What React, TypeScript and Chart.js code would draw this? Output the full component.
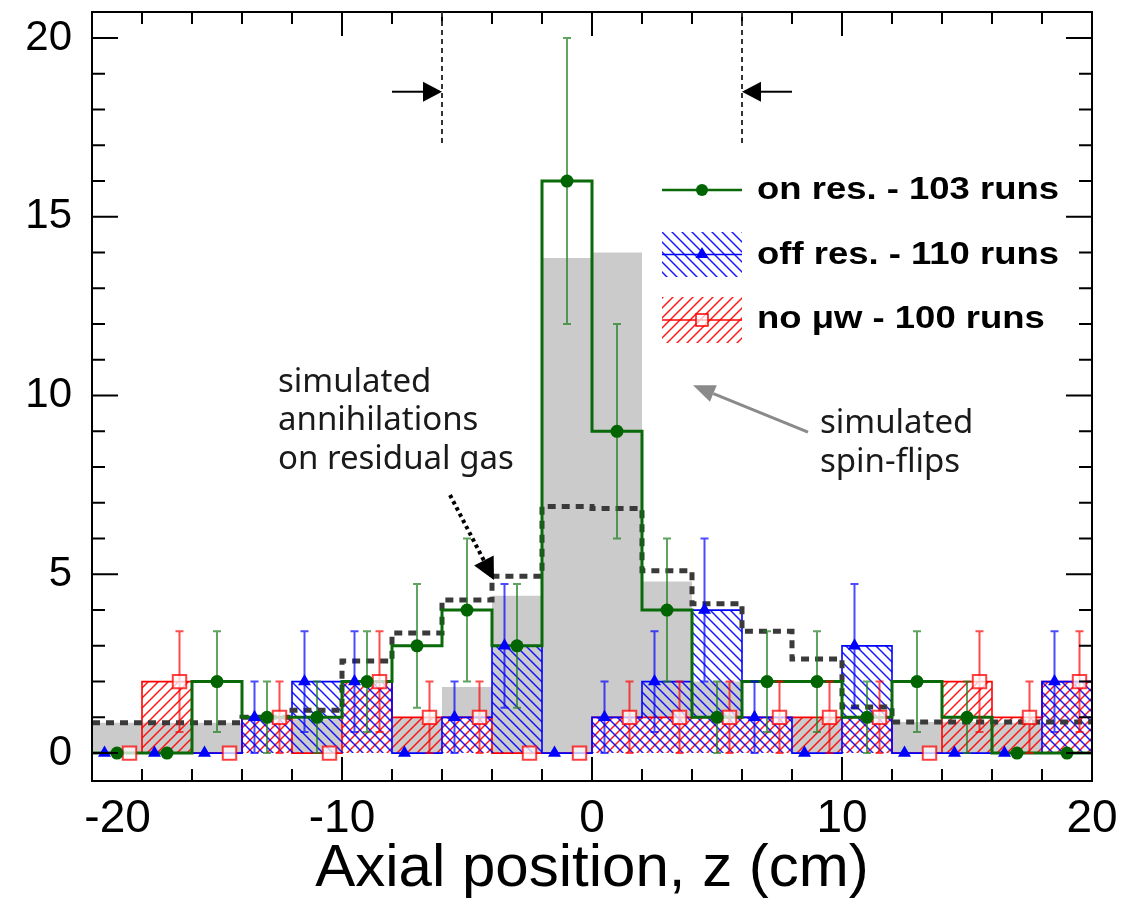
import React, { useEffect, useRef } from 'react';
import { Chart, registerables } from 'chart.js';

Chart.register(...registerables);

// ---------------- data ----------------
const binCenters = [-19, -17, -15, -13, -11, -9, -7, -5, -3, -1, 1, 3, 5, 7, 9, 11, 13, 15, 17, 19];
const binHalfWidth = 1;
const onResCounts = [0, 0, 2, 1, 1, 2, 3, 4, 3, 16, 9, 4, 1, 2, 2, 1, 2, 1, 0, 0];
const onResErrors = [0, 0, 1.41, 1, 1, 1.41, 1.73, 2, 1.73, 4, 3, 2, 1, 1.41, 1.41, 1, 1.41, 1, 0, 0];
const offResCounts = [0, 0, 0, 1, 2, 2, 0, 1, 3, 0, 1, 2, 4, 1, 0, 3, 0, 0, 0, 2];
const offResErrors = [0, 0, 0, 1, 1.41, 1.41, 0, 1, 1.73, 0, 1, 1.41, 2, 1, 0, 1.73, 0, 0, 0, 1.41];
const noMwCounts = [0, 2, 0, 1, 0, 2, 1, 1, 0, 0, 1, 1, 1, 1, 1, 1, 0, 2, 1, 2];
const noMwErrors = [0, 1.41, 0, 1, 0, 1.41, 1, 1, 0, 0, 1, 1, 1, 1, 1, 1, 0, 1.41, 1, 1.41];
const simSpinFlips = [0.85, 0.85, 0.85, 0.85, 0.95, 1.0, 1.0, 1.85, 4.4, 13.85, 14.0, 4.8, 2.0, 1.0, 1.0, 0.9, 0.87, 0.87, 0.85, 0.85];
const simResidualGas = [0.85, 0.85, 0.85, 1.0, 1.2, 2.58, 3.36, 4.28, 4.95, 6.9, 6.84, 5.1, 4.18, 3.41, 2.63, 1.29, 0.87, 0.87, 0.87, 0.87];
const offResOffset = -0.5;
const onResOffset = 0;
const noMwOffset = 0.5;

const xTickValues = [-20, -10, 0, 10, 20];
const xTickLabels = ['-20', '-10', '0', '10', '20'];
const yTickValues = [0, 5, 10, 15, 20];
const yTickLabels = ['0', '5', '10', '15', '20'];
const legendLabels = ['on res. - 103 runs', 'off res. - 110 runs', 'no \u03bcw - 100 runs'];
const xTitle = 'Axial position, z (cm)';
const annihilationText = ['simulated', 'annihilations', 'on residual gas'];
const spinFlipText = ['simulated', 'spin-flips'];
const boundaryZ = [-6, 6];

// ---------------- styles ----------------
const SANS = '"Liberation Sans", Arial, Helvetica, sans-serif';
const NOTE = '"Noto Sans", "Open Sans", sans-serif';
const GREEN_LINE = '#0a6a0a';
const GREEN_MARK = '#006400';
const GREEN_ERR = 'rgba(30,125,30,0.7)';
const BLUE = '#0000ff';
const BLUE_ERR = 'rgba(0,0,255,0.7)';
const RED = '#ff0000';
const RED_ERR = 'rgba(255,0,0,0.7)';
const GRAY = '#cbcbcb';
const DASH = '#3a3a3a';

function stepPoints(values: number[]) {
  const pts = values.map((v, i) => ({ x: binCenters[i] - binHalfWidth, y: v }));
  const last = values.length - 1;
  pts.push({ x: binCenters[last] + binHalfWidth, y: values[last] });
  return pts;
}

function markerPoints(values: number[], offset: number) {
  return values.map((v, i) => ({ x: binCenters[i] + offset, y: v }));
}

function makeHatch(ctx: CanvasRenderingContext2D, color: string, dir: 'fwd' | 'back', size = 10, lw = 1.5) {
  const c = document.createElement('canvas');
  c.width = size;
  c.height = size;
  const g = c.getContext('2d')!;
  g.strokeStyle = color;
  g.lineWidth = lw;
  g.beginPath();
  if (dir === 'fwd') {
    g.moveTo(-2, size + 2); g.lineTo(size + 2, -2);
    g.moveTo(-2, 2); g.lineTo(2, -2);
    g.moveTo(size - 2, size + 2); g.lineTo(size + 2, size - 2);
  } else {
    g.moveTo(-2, -2); g.lineTo(size + 2, size + 2);
    g.moveTo(size - 2, -2); g.lineTo(size + 2, 2);
    g.moveTo(-2, size - 2); g.lineTo(2, size + 2);
  }
  g.stroke();
  return ctx.createPattern(c, 'repeat') as CanvasPattern;
}

function drawArrow(ctx: CanvasRenderingContext2D, x1: number, y1: number, x2: number, y2: number,
  color: string, lw: number, headLen: number, headHalf: number, dash: number[] = []) {
  const ang = Math.atan2(y2 - y1, x2 - x1);
  const bx = x2 - Math.cos(ang) * headLen;
  const by = y2 - Math.sin(ang) * headLen;
  ctx.save();
  ctx.strokeStyle = color;
  ctx.fillStyle = color;
  ctx.lineWidth = lw;
  ctx.setLineDash(dash);
  ctx.beginPath();
  ctx.moveTo(x1, y1);
  ctx.lineTo(bx, by);
  ctx.stroke();
  ctx.setLineDash([]);
  ctx.beginPath();
  ctx.moveTo(x2, y2);
  ctx.lineTo(bx + Math.sin(ang) * headHalf, by - Math.cos(ang) * headHalf);
  ctx.lineTo(bx - Math.sin(ang) * headHalf, by + Math.cos(ang) * headHalf);
  ctx.closePath();
  ctx.fill();
  ctx.restore();
}

const errorBarPlugin = {
  id: 'errorBars',
  beforeDatasetDraw(chart: any, args: any) {
    const ds = chart.data.datasets[args.index];
    if (!ds.errors) return;
    const { ctx, chartArea: ca } = chart;
    const xs = chart.scales.x;
    const ys = chart.scales.y;
    ctx.save();
    ctx.beginPath();
    ctx.rect(ca.left, ca.top, ca.right - ca.left, ca.bottom - ca.top);
    ctx.clip();
    ctx.strokeStyle = ds.errorColor;
    ctx.lineWidth = 2;
    ds.data.forEach((p: any, i: number) => {
      const e = ds.errors[i];
      if (!e) return;
      const x = xs.getPixelForValue(p.x);
      const y1 = ys.getPixelForValue(p.y - e);
      const y2 = ys.getPixelForValue(p.y + e);
      ctx.beginPath();
      ctx.moveTo(x, y1); ctx.lineTo(x, y2);
      ctx.moveTo(x - 4, y1); ctx.lineTo(x + 4, y1);
      ctx.moveTo(x - 4, y2); ctx.lineTo(x + 4, y2);
      ctx.stroke();
    });
    ctx.restore();
  },
};

const framePlugin = {
  id: 'frameTicks',
  afterDraw(chart: any) {
    const { ctx, chartArea: ca } = chart;
    const xs = chart.scales.x;
    const ys = chart.scales.y;
    ctx.save();
    ctx.strokeStyle = '#000';
    ctx.lineWidth = 2;
    ctx.strokeRect(ca.left, ca.top, ca.right - ca.left, ca.bottom - ca.top);
    ctx.beginPath();
    for (let v = 0; v <= 20; v += 1) {
      const y = ys.getPixelForValue(v);
      const len = v % 5 === 0 ? 26 : 13;
      ctx.moveTo(ca.left, y); ctx.lineTo(ca.left + len, y);
      ctx.moveTo(ca.right, y); ctx.lineTo(ca.right - len, y);
    }
    for (let v = -18; v <= 18; v += 2) {
      const x = xs.getPixelForValue(v);
      const len = v % 10 === 0 ? 24 : 12;
      ctx.moveTo(x, ca.bottom); ctx.lineTo(x, ca.bottom - len);
      ctx.moveTo(x, ca.top); ctx.lineTo(x, ca.top + len);
    }
    ctx.stroke();
    ctx.restore();
  },
};

function makeAnnotationPlugin(redHatch: CanvasPattern, blueHatch: CanvasPattern) {
  return {
    id: 'annotations',
    afterDraw(chart: any) {
      const { ctx, chartArea: ca } = chart;
      const xs = chart.scales.x;
      const ys = chart.scales.y;
      const px = (v: number) => xs.getPixelForValue(v);
      const py = (v: number) => ys.getPixelForValue(v);
      ctx.save();

      // region boundaries
      ctx.strokeStyle = '#333';
      ctx.lineWidth = 2;
      ctx.setLineDash([5, 4]);
      boundaryZ.forEach((z) => {
        ctx.beginPath();
        ctx.moveTo(px(z), ca.top);
        ctx.lineTo(px(z), py(17.0));
        ctx.stroke();
      });
      ctx.setLineDash([]);
      drawArrow(ctx, px(-8), py(18.5), px(-6), py(18.5), '#000', 2, 19, 10);
      drawArrow(ctx, px(8), py(18.5), px(6), py(18.5), '#000', 2, 19, 10);

      // text notes
      ctx.fillStyle = '#1a1a1a';
      ctx.font = `33px ${NOTE}`;
      ctx.textAlign = 'left';
      ctx.textBaseline = 'middle';
      const y1 = [10.35, 9.29, 8.22];
      annihilationText.forEach((t, i) => ctx.fillText(t, px(-12.56), py(y1[i])));
      const y2 = [9.23, 8.14];
      spinFlipText.forEach((t, i) => ctx.fillText(t, px(9.12), py(y2[i])));

      // dotted arrow
      drawArrow(ctx, px(-5.68), py(7.22), px(-3.92), py(4.84), '#000', 4, 22, 11, [3.5, 3.5]);
      // gray arrow
      drawArrow(ctx, px(8.64), py(8.98), px(4.04), py(10.29), '#8a8a8a', 3, 22, 9);

      // legend
      const lx0 = 662, lx1 = 742, lmid = 702;
      // on res
      ctx.strokeStyle = GREEN_LINE;
      ctx.lineWidth = 2.5;
      ctx.beginPath(); ctx.moveTo(lx0, 190); ctx.lineTo(lx1, 190); ctx.stroke();
      ctx.fillStyle = GREEN_MARK;
      ctx.beginPath(); ctx.arc(lmid, 190, 6, 0, Math.PI * 2); ctx.fill();
      // off res
      ctx.fillStyle = blueHatch;
      ctx.fillRect(lx0, 232, lx1 - lx0, 45);
      ctx.strokeStyle = BLUE;
      ctx.lineWidth = 1.5;
      ctx.beginPath(); ctx.moveTo(lx0, 254.5); ctx.lineTo(lx1, 254.5); ctx.stroke();
      ctx.fillStyle = BLUE;
      ctx.beginPath(); ctx.moveTo(lmid, 247); ctx.lineTo(lmid + 6.5, 258); ctx.lineTo(lmid - 6.5, 258); ctx.closePath(); ctx.fill();
      // no mw
      ctx.fillStyle = redHatch;
      ctx.fillRect(lx0, 297, lx1 - lx0, 46);
      ctx.strokeStyle = RED;
      ctx.lineWidth = 1.5;
      ctx.beginPath(); ctx.moveTo(lx0, 320); ctx.lineTo(lx1, 320); ctx.stroke();
      ctx.fillStyle = 'rgba(255,255,255,0.7)';
      ctx.fillRect(lmid - 6, 314, 12, 12);
      ctx.strokeRect(lmid - 6, 314, 12, 12);

      ctx.fillStyle = '#000';
      ctx.font = `bold 32px ${SANS}`;
      ctx.textBaseline = 'middle';
      const ly = [190, 255, 319];
      legendLabels.forEach((t, i) => {
        ctx.save();
        ctx.translate(757, ly[i]);
        ctx.scale(1.14, 1);
        ctx.fillText(t, 0, 0);
        ctx.restore();
      });
      ctx.restore();
    },
  };
}

export default function App() {
  const ref = useRef<HTMLCanvasElement>(null);
  useEffect(() => {
    const canvas = ref.current!;
    const ctx0 = canvas.getContext('2d')!;
    const redHatch = makeHatch(ctx0, 'rgba(255,0,0,0.9)', 'fwd');
    const blueHatch = makeHatch(ctx0, 'rgba(0,0,255,0.9)', 'back');
    const overlap = offResCounts.map((v, i) => Math.min(v, noMwCounts[i]));
    const transparent = 'rgba(0,0,0,0)';

    const chart = new Chart(canvas, {
      type: 'line',
      data: {
        datasets: [
          { label: 'sim spin-flips', data: stepPoints(simSpinFlips), stepped: 'before', fill: 'origin',
            backgroundColor: GRAY, borderColor: transparent, borderWidth: 0, pointRadius: 0, order: 20 } as any,
          { label: 'overlap', data: stepPoints(overlap), stepped: 'before', fill: 'origin',
            backgroundColor: '#ffffff', borderColor: transparent, borderWidth: 0, pointRadius: 0, order: 19 } as any,
          { label: 'no mw hist', data: stepPoints(noMwCounts), stepped: 'before', fill: 'origin',
            backgroundColor: redHatch, borderColor: RED, borderWidth: 1.6, pointRadius: 0, order: 18 } as any,
          { label: 'off res hist', data: stepPoints(offResCounts), stepped: 'before', fill: 'origin',
            backgroundColor: blueHatch, borderColor: BLUE, borderWidth: 1.6, pointRadius: 0, order: 17 } as any,
          { label: 'sim residual gas', data: stepPoints(simResidualGas), stepped: 'before', fill: false,
            borderColor: DASH, borderWidth: 5, borderDash: [8, 6], pointRadius: 0, order: 16 } as any,
          { label: 'on res hist', data: stepPoints(onResCounts), stepped: 'before', fill: false,
            borderColor: GREEN_LINE, borderWidth: 3, pointRadius: 0, order: 15 } as any,
          { label: 'no mw', data: markerPoints(noMwCounts, noMwOffset), showLine: false,
            pointStyle: 'rect', pointRadius: 9.5, pointBorderWidth: 2, pointBorderColor: 'rgba(255,0,0,0.75)',
            pointBackgroundColor: 'rgba(255,255,255,0.75)', errors: noMwErrors, errorColor: RED_ERR, order: 14 } as any,
          { label: 'off res', data: markerPoints(offResCounts, offResOffset), showLine: false,
            pointStyle: 'triangle', pointRadius: 7.5, pointBorderWidth: 0, pointBorderColor: BLUE,
            pointBackgroundColor: BLUE, errors: offResErrors, errorColor: BLUE_ERR, order: 13 } as any,
          { label: 'on res', data: markerPoints(onResCounts, onResOffset), showLine: false,
            pointStyle: 'circle', pointRadius: 6.5, pointBorderWidth: 0, pointBorderColor: GREEN_MARK,
            pointBackgroundColor: GREEN_MARK, errors: onResErrors, errorColor: GREEN_ERR, order: 12 } as any,
        ],
      },
      options: {
        responsive: false,
        animation: false,
        events: [],
        layout: { padding: { top: 12, right: 32, bottom: 0, left: 0 } },
        plugins: {
          legend: { display: false },
          tooltip: { enabled: false },
        },
        scales: {
          x: {
            type: 'linear',
            min: -20,
            max: 20,
            grid: { display: false, drawTicks: false },
            border: { display: false },
            afterBuildTicks: (s: any) => { s.ticks = xTickValues.map((v) => ({ value: v })); },
            afterFit: (s: any) => { s.height = 118; s.paddingLeft = 0; s.paddingRight = 0; },
            ticks: {
              autoSkip: false, maxRotation: 0, minRotation: 0, padding: 11, color: '#000',
              font: { family: SANS, size: 46 },
              callback: (v: any) => {
                const i = xTickValues.indexOf(Number(v));
                return (i === 0 ? '    ' : '') + xTickLabels[i];
              },
            },
            title: {
              display: true, text: xTitle, color: '#000',
              font: { family: SANS, size: 60, lineHeight: 1.0 }, padding: { top: 0, bottom: 0 },
            },
          } as any,
          y: {
            type: 'linear',
            min: -0.78,
            max: 20.73,
            grid: { display: false, drawTicks: false },
            border: { display: false },
            afterBuildTicks: (s: any) => { s.ticks = yTickValues.map((v) => ({ value: v })); },
            afterFit: (s: any) => { s.width = 92; s.paddingTop = 0; s.paddingBottom = 0; },
            ticks: {
              autoSkip: false, padding: 20, color: '#000',
              font: { family: SANS, size: 42 },
              callback: (v: any) => yTickLabels[yTickValues.indexOf(Number(v))],
            },
          } as any,
        },
      },
      plugins: [errorBarPlugin, framePlugin, makeAnnotationPlugin(redHatch, blueHatch)],
    } as any);
    return () => chart.destroy();
  }, []);

  return (
    <div style={{ position: 'absolute', left: 0, top: 0, width: 1124, height: 899 }}>
      <canvas ref={ref} width={1124} height={899} style={{ display: 'block', width: 1124, height: 899 }} />
    </div>
  );
}
